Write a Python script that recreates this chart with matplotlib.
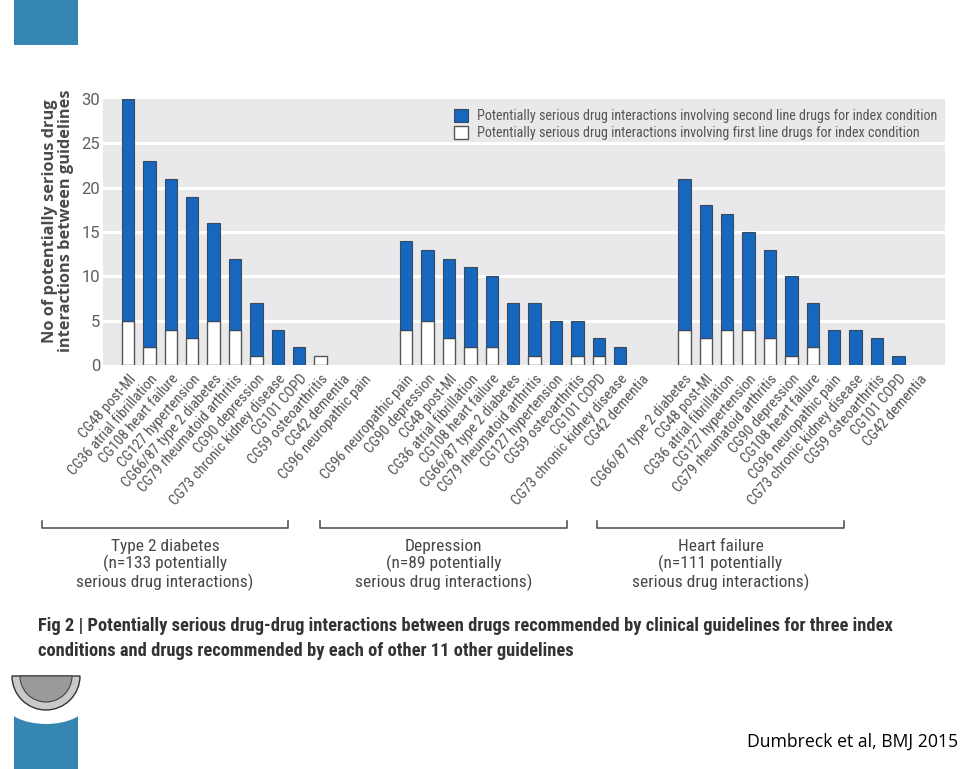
import matplotlib
matplotlib.use("Agg")
import matplotlib.pyplot as plt
from matplotlib.patches import Patch, Rectangle, Ellipse, Wedge
from matplotlib.transforms import IdentityTransform
import numpy as np

# ---------------- data ----------------
labels_t2d = ["CG48 post-MI", "CG36 atrial fibrillation", "CG108 heart failure",
              "CG127 hypertension", "CG66/87 type 2 diabetes", "CG79 rheumatoid arthritis",
              "CG90 depression", "CG73 chronic kidney disease", "CG101 COPD",
              "CG59 osteoarthritis", "CG42 dementia", "CG96 neuropathic pain"]
first_t2d = [5, 2, 4, 3, 5, 4, 1, 0, 0, 1, 0, 0]
second_t2d = [25, 21, 17, 16, 11, 8, 6, 4, 2, 0, 0, 0]

labels_dep = ["CG96 neuropathic pain", "CG90 depression", "CG48 post-MI",
              "CG36 atrial fibrillation", "CG108 heart failure", "CG66/87 type 2 diabetes",
              "CG79 rheumatoid arthritis", "CG127 hypertension", "CG59 osteoarthritis",
              "CG101 COPD", "CG73 chronic kidney disease", "CG42 dementia"]
first_dep = [4, 5, 3, 2, 2, 0, 1, 0, 1, 1, 0, 0]
second_dep = [10, 8, 9, 9, 8, 7, 6, 5, 4, 2, 2, 0]

labels_hf = ["CG66/87 type 2 diabetes", "CG48 post-MI", "CG36 atrial fibrillation",
             "CG127 hypertension", "CG79 rheumatoid arthritis", "CG90 depression",
             "CG108 heart failure", "CG96 neuropathic pain", "CG73 chronic kidney disease",
             "CG59 osteoarthritis", "CG101 COPD", "CG42 dementia"]
first_hf = [4, 3, 4, 4, 3, 1, 2, 0, 0, 0, 0, 0]
second_hf = [17, 15, 13, 11, 10, 9, 5, 4, 4, 3, 1, 0]

group_names = ["Type 2 diabetes\n(n=133 potentially\nserious drug interactions)",
               "Depression\n(n=89 potentially\nserious drug interactions)",
               "Heart failure\n(n=111 potentially\nserious drug interactions)"]

legend_labels = ["Potentially serious drug interactions involving second line drugs for index condition",
                 "Potentially serious drug interactions involving first line drugs for index condition"]

yticks = [0, 5, 10, 15, 20, 25, 30]

# ---------------- style ----------------
COND = ["Roboto Condensed", "DejaVu Sans"]
REG = ["Roboto", "DejaVu Sans"]
WIDE = ["Open Sans", "DejaVu Sans"]
plt.rcParams["font.family"] = COND
BLUE = "#1667bd"
EDGE = "#555555"
BG = "#e9e9eb"
TXT = "#555555"

W, H = 960, 769
fig = plt.figure(figsize=(9.6, 7.69), dpi=100)

def fx(px):
    return px / W

def fy(py):
    return 1 - py / H

ax_left, ax_right, ax_top, ax_bot = 103, 945, 99, 365
ax = fig.add_axes([fx(ax_left), fy(ax_bot), fx(ax_right - ax_left), (ax_bot - ax_top) / H])
ax.set_facecolor(BG)

groups = [(labels_t2d, first_t2d, second_t2d),
          (labels_dep, first_dep, second_dep),
          (labels_hf, first_hf, second_hf)]

bw = 0.575
all_pos, all_labels = [], []
for g, (labs, f, s) in enumerate(groups):
    pos = np.arange(len(labs)) + g * 13
    f = np.array(f)
    s = np.array(s)
    mf = f > 0
    ax.bar(pos[mf], f[mf], width=bw, color="white", edgecolor=EDGE, linewidth=1.0, zorder=3)
    ms = s > 0
    ax.bar(pos[ms], s[ms], bottom=f[ms], width=bw, color=BLUE, edgecolor="#3a4a5a",
           linewidth=0.8, zorder=3)
    all_pos.extend(pos)
    all_labels.extend(labs)

x0 = 128
sp = 21.4
ax.set_xlim((ax_left - x0) / sp, (ax_right - x0) / sp)
ax.set_ylim(0, 30)
for yv in yticks[1:-1]:
    ax.axhline(yv, color="white", linewidth=2.2, zorder=1)
for sp_ in ax.spines.values():
    sp_.set_visible(False)
ax.set_yticks(yticks)
ax.set_yticklabels([str(v) for v in yticks], fontsize=12, color="#5e5e5e", family=REG)
ax.tick_params(axis="y", length=0, pad=2)
ax.set_xticks(all_pos)
ax.set_xticklabels(all_labels, rotation=49, ha="right", va="top",
                   rotation_mode="anchor", fontsize=10.6, color=TXT)
ax.tick_params(axis="x", length=0, pad=5)

fig.text(fx(58), fy(221), "No of potentially serious drug\ninteractions between guidelines",
         rotation=90, ha="center", va="center", fontsize=11.8, fontweight="bold",
         color="#4a4a4a", linespacing=0.95, family=WIDE)

handles = [Patch(facecolor=BLUE, edgecolor="#3a4a5a", linewidth=0.8),
           Patch(facecolor="white", edgecolor=EDGE, linewidth=1.0)]
leg = ax.legend(handles, legend_labels, loc="upper left",
                bbox_to_anchor=((444 - ax_left) / (ax_right - ax_left), 1.0),
                frameon=False, fontsize=10.2, handlelength=1.0, handleheight=1.0,
                handletextpad=0.6, labelspacing=0.22, borderaxespad=0.3,
                labelcolor="#555555")

# group brackets
brackets = [(42, 288), (320, 567), (597, 844)]
for (xa, xb), name in zip(brackets, group_names):
    fig.add_artist(plt.Line2D([fx(xa), fx(xa), fx(xb), fx(xb)],
                              [fy(521), fy(528), fy(528), fy(521)],
                              color="#555555", linewidth=1.2))
    fig.text(fx((xa + xb) / 2), fy(539), name, ha="center", va="top",
             fontsize=12.5, color="#474747", linespacing=1.08)

# caption
fig.text(fx(38), fy(626), "Fig 2 | Potentially serious drug-drug interactions between drugs recommended by clinical guidelines for three index",
         ha="left", va="center", fontsize=13.3, fontweight="bold", color="#333333")
fig.text(fx(38), fy(651), "conditions and drugs recommended by each of other 11 other guidelines",
         ha="left", va="center", fontsize=13.3, fontweight="bold", color="#333333")

# decorative slide elements
SLIDE_BLUE = "#3586b0"
fig.add_artist(Rectangle((fx(14), fy(45)), fx(64), 45 / H, facecolor=SLIDE_BLUE,
                         edgecolor="none", transform=fig.transFigure))
fig.add_artist(Rectangle((fx(14), 0), fx(64), fy(715), facecolor=SLIDE_BLUE,
                         edgecolor="none", transform=fig.transFigure))
fig.add_artist(Ellipse((fx(46), fy(702)), fx(84), 44 / H, facecolor="white",
                       edgecolor="none", transform=fig.transFigure))
fig.add_artist(Wedge((46, H - 676), 34, 180, 360, facecolor="#c9c9c9",
                     edgecolor="#333333", linewidth=1.0, transform=IdentityTransform()))
fig.add_artist(Wedge((46, H - 676), 26, 180, 360, facecolor="#9a9a9a",
                     edgecolor="#444444", linewidth=0.8, transform=IdentityTransform()))
fig.text(fx(958), fy(742), "Dumbreck et al, BMJ 2015", ha="right", va="center",
         fontsize=12.7, color="black", family=["Open Sans", "DejaVu Sans"])

fig.savefig("out.png", dpi=100, facecolor="white")
